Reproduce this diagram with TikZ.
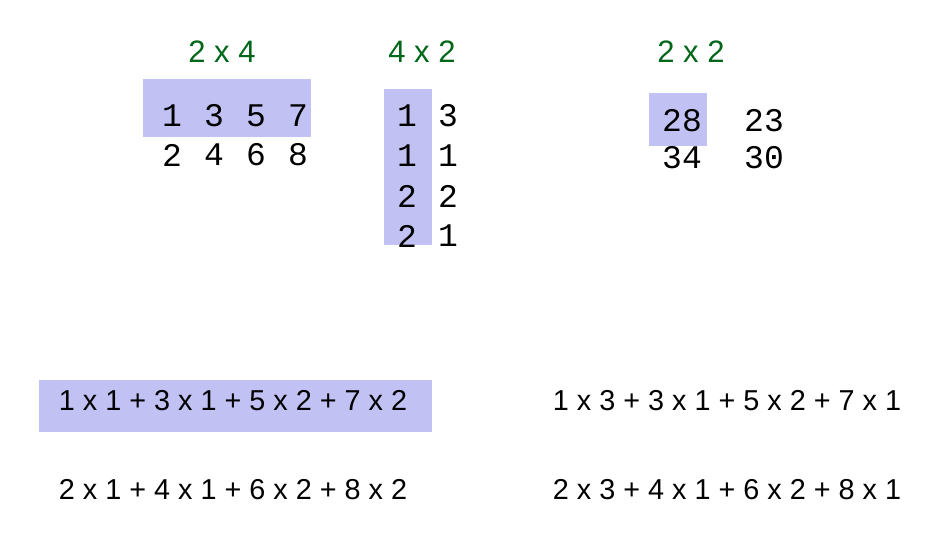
\documentclass[tikz,border=0pt]{standalone}
\usepackage{fontspec}
\setmainfont{Liberation Sans}
\newfontfamily\monofont{Liberation Mono}
\definecolor{rowblue}{RGB}{193,193,243}
\definecolor{titlegreen}{RGB}{0,102,26}
\begin{document}
\begin{tikzpicture}[
	x=1pt,
	y=-1pt,
	title/.style={text=titlegreen,inner sep=0pt,font=\fontsize{31}{31}\selectfont},
	entry/.style={inner sep=0pt,font=\monofont\fontsize{33}{33}\selectfont},
	sum/.style={inner sep=0pt,font=\fontsize{28.8}{29}\selectfont}
	]
	\useasboundingbox (0,0) rectangle (932,547);
	% shaded rows and columns
	\fill[rowblue] (143,79) rectangle (311,137);
	\fill[rowblue] (384,89) rectangle (432,245);
	\fill[rowblue] (649,93) rectangle (707,146);
	\fill[rowblue] (39,380) rectangle (432,432);
	% titles
	\node[title] (tA) at (222,52) {2 x 4};
	\node[title] (tB) at (422,52) {4 x 2};
	\node[title] (tC) at (691,52) {2 x 2};
	% 2 x 4 matrix
	\foreach \a/\b [count=\i] in {1/2,3/4,5/6,7/8} {
		\node[entry] (a1\i) at (130+42*\i,116) {\a};
		\node[entry] (a2\i) at (130+42*\i,155) {\b};
	}
	% 4 x 2 matrix
	\foreach \a/\b [count=\i] in {1/3,1/1,2/2,2/1} {
		\node[entry] (b\i1) at (407,76+40*\i) {\a};
		\node[entry] (b\i2) at (448,76+40*\i) {\b};
	}
	% 2 x 2 result
	\node[entry] (c11) at (682,121) {28};
	\node[entry] (c12) at (764,121) {23};
	\node[entry] (c21) at (682,158) {34};
	\node[entry] (c22) at (764,158) {30};
	% sums
	\node[sum] (s11) at (233,401) {1 x 1 + 3 x 1 + 5 x 2 + 7 x 2};
	\node[sum] (s21) at (233,490) {2 x 1 + 4 x 1 + 6 x 2 + 8 x 2};
	\node[sum] (s12) at (727,401) {1 x 3 + 3 x 1 + 5 x 2 + 7 x 1};
	\node[sum] (s22) at (727,490) {2 x 3 + 4 x 1 + 6 x 2 + 8 x 1};
\end{tikzpicture}
\end{document}
